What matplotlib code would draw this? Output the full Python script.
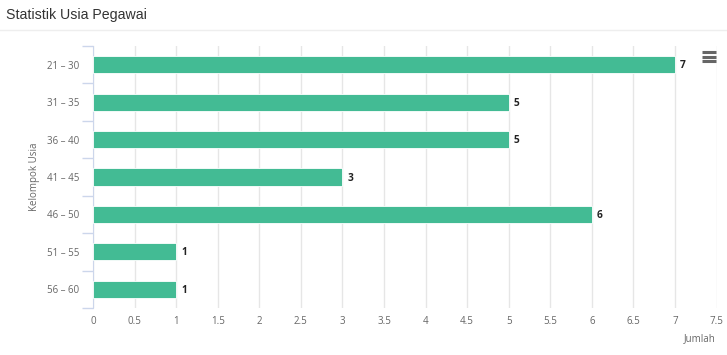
import matplotlib.pyplot as plt
import numpy as np
from matplotlib.lines import Line2D

# data
kelompok = ['21 – 30', '31 – 35', '36 – 40', '41 – 45', '46 – 50', '51 – 55', '56 – 60']
jumlah = [7, 5, 5, 3, 6, 1, 1]
x_ticks = [0, 0.5, 1, 1.5, 2, 2.5, 3, 3.5, 4, 4.5, 5, 5.5, 6, 6.5, 7, 7.5]

bar_color = '#43bb94'
text_color = '#666666'

plt.rcParams['font.family'] = ['Open Sans', 'DejaVu Sans']

fig = plt.figure(figsize=(7.27, 3.55), dpi=100)
ax = fig.add_axes([93 / 727, 1 - 308 / 355, (716.6 - 93) / 727, (308 - 46) / 355])

y = np.arange(len(kelompok))
ax.barh(y, jumlah, height=0.46, color=bar_color, edgecolor='white', linewidth=0.6, zorder=3)
for yi, v in zip(y, jumlah):
    ax.text(v + 0.06, yi + 0.03, str(v), va='center', ha='left', fontsize=7.3,
            fontweight='bold', color='#222222', zorder=4)

ax.set_ylim(len(kelompok) - 0.5, -0.5)
ax.set_xlim(0, 7.5)
ax.set_xticks(x_ticks)
ax.set_xticklabels(['%g' % t for t in x_ticks])
ax.set_yticks(y)
ax.set_yticklabels(kelompok)
ax.set_yticks(np.arange(-0.5, len(kelompok)), minor=True)

ax.grid(axis='x', color='#e6e6e6', linewidth=1, zorder=0)
ax.tick_params(axis='x', length=0, labelsize=7, colors=text_color, pad=6)
ax.tick_params(axis='y', which='major', length=0, labelsize=7, colors=text_color, pad=10)
ax.tick_params(axis='y', which='minor', length=8, color='#ccd6eb', width=1)

for s in ['top', 'right', 'bottom']:
    ax.spines[s].set_visible(False)
ax.spines['left'].set_color('#ccd6eb')

fig.text(35 / 727, 1 - 177 / 355, 'Kelompok Usia', rotation=90, ha='center', va='center',
         fontsize=7, color=text_color)
fig.text(716 / 727, 1 - 339 / 355, 'Jumlah', ha='right', va='center',
         fontsize=7, color=text_color)

# header
fig.text(6 / 727, 1 - 15 / 355, 'Statistik Usia Pegawai', ha='left', va='center',
         fontsize=10.2, color='#333333', family=['Liberation Sans', 'DejaVu Sans'])
fig.add_artist(Line2D([0, 1], [1 - 30 / 355] * 2, color='#eeeeee', linewidth=1))

# export menu icon
for yy in [52, 56.5, 61]:
    fig.add_artist(Line2D([702 / 727, 716 / 727], [1 - yy / 355] * 2, color='#666666',
                          linewidth=2.2, solid_capstyle='butt'))

fig.savefig('out.png', dpi=100)
